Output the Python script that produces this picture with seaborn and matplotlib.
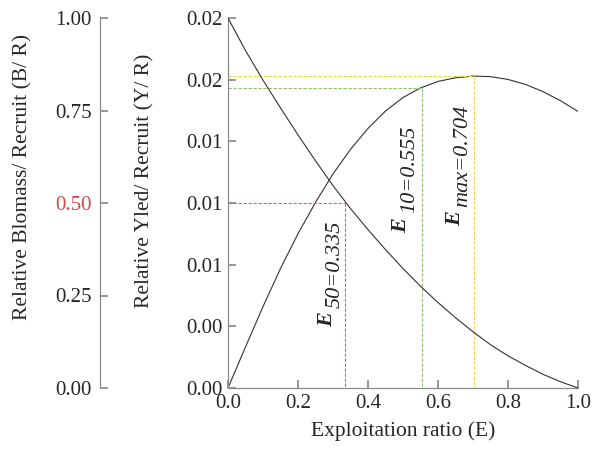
import numpy as np
import pandas as pd
import matplotlib
matplotlib.use("Agg")
import matplotlib.pyplot as plt
import seaborn as sns
from matplotlib.ticker import FormatStrFormatter

# Data
E = [0.00, 0.05, 0.10, 0.15, 0.20, 0.25, 0.30, 0.35, 0.40, 0.45, 0.50,
     0.55, 0.60, 0.65, 0.70, 0.75, 0.80, 0.85, 0.90, 0.95, 1.00]
yield_per_recruit = [0.0, 0.00222, 0.00440, 0.00646, 0.00834, 0.01003, 0.01157,
                     0.01290, 0.01403, 0.01497, 0.01570, 0.01622, 0.01657,
                     0.01677, 0.01686, 0.01683, 0.01668, 0.01641, 0.01602,
                     0.01553, 0.01495]
biomass_per_recruit = [1.0, 0.912, 0.832, 0.757, 0.684, 0.614, 0.547, 0.485,
                       0.428, 0.374, 0.323, 0.275, 0.231, 0.190, 0.152, 0.117,
                       0.087, 0.061, 0.037, 0.017, 0.0]

e50, e10, emax = 0.335, 0.555, 0.704
yr_at_e10 = 0.01622
yr_at_emax = 0.01686
br_half = 0.5

yr_ticks = np.linspace(0, 0.02, 7)
br_ticks = [0.0, 0.25, 0.50, 0.75, 1.00]

df = pd.DataFrame({"E": E, "YR": yield_per_recruit, "BR": biomass_per_recruit})

sns.set_theme(style="ticks")
plt.rcParams["font.family"] = ["Liberation Serif", "DejaVu Serif"]

SPINE = "#8a8a8a"
RED = "#e2604f"
GREEN = "#8cc070"
YELLOW = "#e8d83a"
FS_TICK = 15
FS_LAB = 15.5

fig = plt.figure(figsize=(5.92, 4.51), dpi=100)
ax = fig.add_axes([228 / 592, 63 / 451, 350 / 592, 370 / 451])
ax2 = ax.twinx()

# curves
sns.lineplot(data=df, x="E", y="YR", ax=ax, color="#333333", linewidth=0.8)
sns.lineplot(data=df, x="E", y="BR", ax=ax2, color="#333333", linewidth=0.8)

# reference lines
dash = dict(linestyle=(0, (3, 1.5)), linewidth=0.8)
ax2.plot([0, e50], [br_half, br_half], color=RED, **dash)
ax2.plot([e50, e50], [br_half, 0], color=RED, **dash)
ax.plot([0, e10], [yr_at_e10, yr_at_e10], color=GREEN, **dash)
ax.plot([e10, e10], [yr_at_e10, 0], color=GREEN, **dash)
ax.plot([0, emax], [yr_at_emax, yr_at_emax], color=YELLOW, **dash)
ax.plot([emax, emax], [yr_at_emax, 0], color=YELLOW, **dash)

ax.set_xlim(0, 1)
ax.set_ylim(0, 0.02)
ax2.set_ylim(0, 1)

ax.set_xticks([0, 0.2, 0.4, 0.6, 0.8, 1.0])
ax.xaxis.set_major_formatter(FormatStrFormatter("%.1f"))
ax.set_yticks(yr_ticks)
ax.yaxis.set_major_formatter(FormatStrFormatter("%.2f"))
ax2.set_yticks(br_ticks)
ax2.yaxis.set_major_formatter(FormatStrFormatter("%.2f"))

# secondary axis moved to the far left
ax2.yaxis.tick_left()
ax2.yaxis.set_label_position("left")
ax2.spines["left"].set_position(("axes", -0.366))
for s in ["top", "right", "bottom"]:
    ax2.spines[s].set_visible(False)
for s in ["top", "right"]:
    ax.spines[s].set_visible(False)
for a in (ax, ax2):
    for s in a.spines.values():
        s.set_color(SPINE)
        s.set_linewidth(0.9)

ax.tick_params(axis="both", direction="in", length=6, color=SPINE,
               labelsize=FS_TICK, pad=4)
ax2.tick_params(axis="y", direction="in", length=6, color=SPINE,
                labelsize=FS_TICK, pad=6)
ax2.get_yticklabels()[2].set_color("#d04a48")

ax.set_xlabel("Exploitation ratio (E)", fontsize=FS_LAB, labelpad=6)
ax.set_ylabel("Relative Yled/ Recruit (Y/ R)", fontsize=FS_LAB)
ax2.set_ylabel("Relative Blomass/ Recruit (B/ R)", fontsize=FS_LAB)
ax.yaxis.set_label_coords(-0.209, 0.56)
ax2.yaxis.set_label_coords(-0.56, 0.57)

# annotations
lab = dict(rotation=90, fontsize=16, ha="center")
ax.text(0.283, 0.00368, "E", fontweight="bold", style="italic", va="center", **lab)
ax.text(0.305, 0.00432, "50=0.335", style="italic", va="bottom", **lab)
ax.text(0.496, 0.00877, "E", fontweight="bold", style="italic", va="center", **lab)
ax.text(0.520, 0.00944, "10=0.555", style="italic", va="bottom", **lab)
ax.text(0.649, 0.00917, "E", fontweight="bold", style="italic", va="center", **lab)
ax.text(0.670, 0.00977, "max=0.704", style="italic", va="bottom", **lab)

fig.savefig("out.png", dpi=100)
